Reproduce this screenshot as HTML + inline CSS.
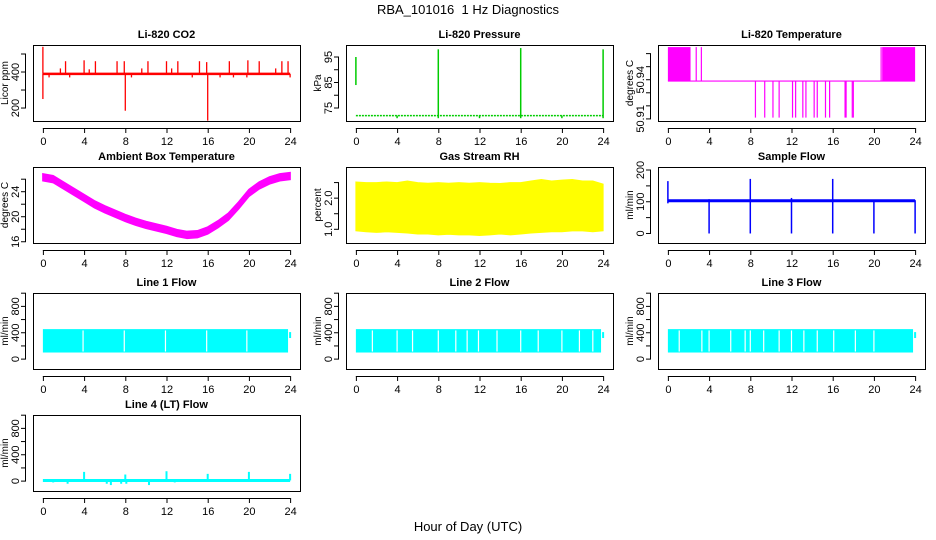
<!DOCTYPE html>
<html><head><meta charset="utf-8"><style>
html,body{margin:0;padding:0;background:#fff;}
svg{display:block;font-family:"Liberation Sans",sans-serif;}
</style></head><body>
<svg id="chart" width="936" height="540" viewBox="0 0 936 540" xmlns="http://www.w3.org/2000/svg">
<text x="468" y="14" text-anchor="middle" font-size="13">RBA_101016&#160; 1 Hz Diagnostics</text>
<text x="468" y="531" text-anchor="middle" font-size="13">Hour of Day (UTC)</text>
</svg>
<script>
// ---- data arrays ----
const xTicks=[0,4,8,12,16,20,24];
const co2Base=390;
const co2SpikeHours=[0,0,1.7,2.2,2.6,4,4.5,5.1,0.6,7.2,7.9,8,8.6,9.6,10.2,12,12.5,13.1,14.5,15.2,15.9,16,17.2,18.1,18.5,19.8,19.9,21,22.6,23.2,23.8,24];
const co2SpikeVals=[540,250,420,460,370,465,415,460,370,460,460,185,370,420,460,460,420,460,370,460,455,130,370,460,370,370,465,460,420,460,460,370];
const presBase=72;
const presSpikeHours=[0,8,16,24,4,12,20];
const presSpikeHigh=[95,98,98.5,98,72,72,72];
const presSpikeLow=[84,71,71,71,71,71,71];
const tempHighSpans=[[0,2.2],[20.8,24]];
const tempHighSpikes=[2.75,3.25,20.7];
const tempLowSpikes=[8.5,9.4,10.2,10.8,12.1,12.4,13.1,13.4,14.2,14.5,15.3,15.7,17.2,17.3,17.9,18.0];
const tempBase=50.939, tempHigh=50.965, tempLow=50.911;
const ambHours=[0,1,2,3,4,5,6,7,8,9,10,11,12,13,14,15,16,17,18,19,20,21,22,23,24];
const ambVals=[26.3,26,25,24,23,22,21.2,20.5,19.8,19.2,18.7,18.3,17.9,17.4,17.1,17.2,17.8,18.8,20,21.8,23.8,25,25.8,26.3,26.5];
const rhHours=[0,1,2,3,4,5,6,7,8,9,10,11,12,13,14,15,16,17,18,19,20,21,22,23,24];
const rhUpper=[2.52,2.5,2.5,2.52,2.5,2.55,2.5,2.48,2.5,2.48,2.5,2.48,2.5,2.48,2.47,2.5,2.5,2.55,2.6,2.55,2.58,2.6,2.55,2.55,2.45];
const rhLower=[0.95,0.92,0.9,0.92,0.9,0.88,0.85,0.85,0.82,0.84,0.82,0.82,0.8,0.82,0.85,0.82,0.85,0.88,0.9,0.92,0.92,0.95,0.95,0.92,0.95];
const flowHours=[0,4,8,12,16,20,24];
const flowBase=103;
const flowSpikeHigh=[165,108,172,112,172,105,105];
const flowSpikeLow=[95,0,0,0,0,0,0];
const line1Gaps=[3.9,7.9,11.9,15.9,19.8];
const line2Gaps=[1.6,4.0,5.5,8.0,9.7,10.8,11.9,13.7,16.0,17.7,20.0,21.7,23.0];
const line3Gaps=[1.1,3.3,4.0,6.1,7.5,8.0,9.3,10.8,12.0,13.2,14.5,16.1,18.2,20.0];
const lineLow=100, lineHigh=455, lineEnd=350;
const line4Base=10;
const line4SpikeHours=[4,8,12,16,20,24,1,2.4,6.2,6.6,7.6,8.1,10.3,12.8];
const line4SpikeVals=[140,100,150,110,140,110,-20,-40,-40,-60,-40,-40,-60,-20];

const NS="http://www.w3.org/2000/svg";
const svg=document.getElementById('chart');
function el(tag,attrs,parent){const e=document.createElementNS(NS,tag);for(const k in attrs)e.setAttribute(k,attrs[k]);(parent||svg).appendChild(e);return e;}

const colLeft=[33,346,658], W=267, rowTop=[45,167,293,415], H=76;
function panel(c,r,ylim,ticks,labels,title,ylab,name){
  const L=colLeft[c],T=rowTop[r];
  const g=el('g',{});
  
  
  const xs=h=>L+(h+0.96)/25.92*W;
  const ys=v=>T+H-(v-ylim[0])/(ylim[1]-ylim[0])*H;
  const t=el('text',{x:L+W/2,y:T-7,'text-anchor':'middle','font-size':'11','font-weight':'bold'},g);
  t.textContent=title;
  
  
  const xa=el('g',{stroke:'#000','stroke-width':1},g);
  
  
  el('line',{x1:xs(xTicks[0]),x2:xs(xTicks[xTicks.length-1]),y1:T+H+7.5,y2:T+H+7.5},xa);
  xTicks.forEach(h=>{el('line',{x1:xs(h)+.5,x2:xs(h)+.5,y1:T+H+7,y2:T+H+12},xa);
    const tx=el('text',{x:xs(h)+.5,y:T+H+24,'text-anchor':'middle','font-size':'11',stroke:'none'},xa);tx.textContent=h;});
  const ya=el('g',{stroke:'#000','stroke-width':1},g);
  
  
  el('line',{x1:L-7.5,x2:L-7.5,y1:ys(ticks[0]),y2:ys(ticks[ticks.length-1])},ya);
  ticks.forEach(v=>el('line',{x1:L-12,x2:L-7,y1:ys(v),y2:ys(v)},ya));
  labels.forEach(v=>{const tx=el('text',{transform:`translate(${L-14},${ys(v)}) rotate(-90)`,'text-anchor':'middle','font-size':'11',stroke:'none'},ya);tx.textContent=v;});
  const yl=el('text',{transform:`translate(${L-25},${T+H/2}) rotate(-90)`,'text-anchor':'middle','font-size':'10'},g);
  yl.textContent=ylab;
  
  
  const data=el('g',{},g);
  
  
  el('rect',{x:L+.5,y:T+.5,width:W,height:H,fill:'none',stroke:'#000','stroke-width':1},g);
  return {xs,ys,g:data};
}
function vline(p,h,a,b,col,w){el('line',{x1:p.xs(h),x2:p.xs(h),y1:p.ys(a),y2:p.ys(b),stroke:col,'stroke-width':w||1.2},p.g);}
function hline(p,h1,h2,v,col,w){el('line',{x1:p.xs(h1),x2:p.xs(h2),y1:p.ys(v),y2:p.ys(v),stroke:col,'stroke-width':w||2},p.g);}

let p=panel(0,0,[128,550],[200,300,400,500],[200,400],'Li-820 CO2','Licor ppm','co2');
hline(p,0,24,co2Base,'#f00',2.5);
co2SpikeHours.forEach((h,i)=>vline(p,h,co2Base,co2SpikeVals[i],'#f00',1.3));
p=panel(1,0,[69.9,99.7],[75,80,85,90,95],[75,85,95],'Li-820 Pressure','kPa','pressure');
el('line',{x1:p.xs(0),x2:p.xs(24),y1:p.ys(presBase),y2:p.ys(presBase),stroke:'#0c0','stroke-width':1.5,'stroke-dasharray':'2,1'},p.g);
presSpikeHours.forEach((h,i)=>{vline(p,h,presSpikeLow[i],presSpikeHigh[i],'#0c0',1.5);});
p=panel(2,0,[50.9084,50.9666],[50.91,50.92,50.93,50.94,50.95,50.96],[50.91,50.94],'Li-820 Temperature','degrees C','li820-temp');
hline(p,0,24,tempBase,'#f0f',1.2);
tempHighSpans.forEach(s=>el('rect',{x:p.xs(s[0]),y:p.ys(tempHigh),width:p.xs(s[1])-p.xs(s[0]),height:p.ys(tempBase)-p.ys(tempHigh),fill:'#f0f'},p.g));
tempHighSpikes.forEach(h=>vline(p,h,tempBase,tempHigh,'#f0f',1.2));
tempLowSpikes.forEach(h=>vline(p,h,tempBase,tempLow,'#f0f',1.2));
p=panel(0,1,[15.8,27.95],[16,18,20,22,24,26],[16,20,24],'Ambient Box Temperature','degrees C','ambient-temp');
{let up=ambHours.map((h,i)=>`${p.xs(h)},${p.ys(ambVals[i]+0.55)}`);let dn=ambHours.map((h,i)=>`${p.xs(h)},${p.ys(ambVals[i]-0.55)}`).reverse();
el('polygon',{points:up.concat(dn).join(' '),fill:'#f0f',stroke:'#f0f','stroke-width':1.5},p.g);}
p=panel(1,1,[0.56,3.0],[1.0,1.5,2.0,2.5],['1.0','2.0'],'Gas Stream RH','percent','rh');
{let up=rhHours.map((h,i)=>`${p.xs(h)},${p.ys(rhUpper[i])}`);let dn=rhHours.map((h,i)=>`${p.xs(h)},${p.ys(rhLower[i])}`).reverse();
el('polygon',{points:up.concat(dn).join(' '),fill:'#ff0',stroke:'#ff0','stroke-width':1},p.g);}
p=panel(2,1,[-30,209.5],[0,50,100,150,200],[0,100,200],'Sample Flow','ml/min','sample-flow');
hline(p,0,24,flowBase,'#00f',3);
flowHours.forEach((h,i)=>vline(p,h,flowSpikeLow[i],flowSpikeHigh[i],'#00f',1.5));
function linePanel(c,r,title,name,gaps){
  const q=panel(c,r,[-150,1003],[0,200,400,600,800,1000],[0,400,800],title,'ml/min',name);
  el('rect',{x:q.xs(0),y:q.ys(lineHigh),width:q.xs(23.8)-q.xs(0),height:q.ys(lineLow)-q.ys(lineHigh),fill:'#0ff'},q.g);
  vline(q,24,lineEnd-30,lineEnd+60,'#0ff',2);
  gaps.forEach(h=>vline(q,h,lineLow+15,lineHigh-20,'#fff',1.2));
  return q;
}
linePanel(0,2,'Line 1 Flow','line1-flow',line1Gaps);
linePanel(1,2,'Line 2 Flow','line2-flow',line2Gaps);
linePanel(2,2,'Line 3 Flow','line3-flow',line3Gaps);
p=panel(0,3,[-150,1003],[0,200,400,600,800,1000],[0,400,800],'Line 4 (LT) Flow','ml/min','line4-flow');
hline(p,0,24,line4Base,'#0ff',3);
line4SpikeHours.forEach((h,i)=>vline(p,h,line4Base,line4SpikeVals[i],'#0ff',2));
</script>
</body></html>
